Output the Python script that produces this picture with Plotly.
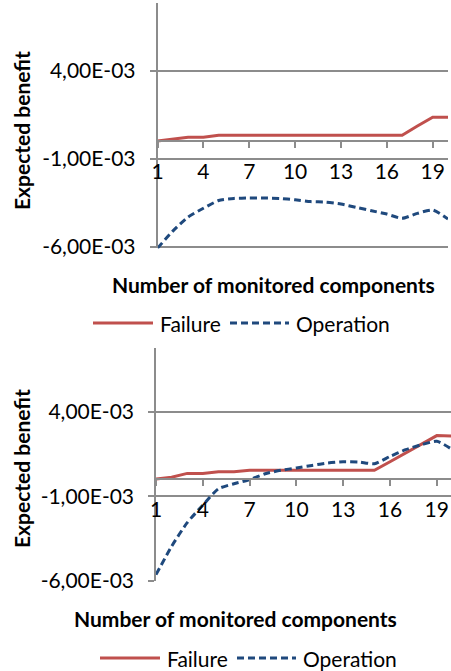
import plotly.graph_objects as go

# ---------------- data ----------------
components = [1, 2, 3, 4, 5, 6, 7, 8, 9, 10, 11, 12, 13, 14, 15, 16, 17, 18, 19, 20]

top_failure = [0.02e-3, 0.12e-3, 0.23e-3, 0.23e-3, 0.35e-3, 0.35e-3, 0.35e-3, 0.35e-3, 0.35e-3, 0.35e-3,
               0.35e-3, 0.35e-3, 0.35e-3, 0.35e-3, 0.35e-3, 0.35e-3, 0.35e-3, 0.87e-3, 1.37e-3, 1.37e-3]
top_operation = [-6.07e-3, -5.10e-3, -4.30e-3, -3.80e-3, -3.36e-3, -3.24e-3, -3.22e-3, -3.22e-3, -3.24e-3, -3.32e-3,
                 -3.42e-3, -3.45e-3, -3.56e-3, -3.75e-3, -3.94e-3, -4.13e-3, -4.37e-3, -4.09e-3, -3.90e-3, -4.41e-3]

bottom_failure = [0.03e-3, 0.13e-3, 0.36e-3, 0.36e-3, 0.46e-3, 0.46e-3, 0.54e-3, 0.54e-3, 0.54e-3, 0.54e-3,
                  0.54e-3, 0.54e-3, 0.54e-3, 0.54e-3, 0.54e-3, 1.05e-3, 1.56e-3, 2.07e-3, 2.59e-3, 2.57e-3]
bottom_operation = [-5.62e-3, -3.95e-3, -2.55e-3, -1.52e-3, -0.55e-3, -0.25e-3, -0.01e-3, 0.34e-3, 0.54e-3, 0.68e-3,
                    0.83e-3, 0.97e-3, 1.05e-3, 1.03e-3, 0.93e-3, 1.36e-3, 1.76e-3, 2.05e-3, 2.25e-3, 1.76e-3]

x_tick_vals = [1, 4, 7, 10, 13, 16, 19]
x_tick_text = ["1", "4", "7", "10", "13", "16", "19"]
y_tick_vals = [4.0e-3, -1.0e-3, -6.0e-3]
y_tick_text = ["4,00E-03", "-1,00E-03", "-6,00E-03"]

series_names = ["Failure", "Operation"]
x_title = "Number of monitored components"
y_title = "Expected benefit"

# ---------------- styling ----------------
W, H = 451, 671
RED = "#C0504D"
BLUE = "#1F497D"
GRID = "#8C8C8C"
FONT = "Lato, 'Noto Sans', sans-serif"
FS = 21
DASH = "7px,4px"


def fx(px):
    return px / W


def fy(px):
    return 1 - px / H


panels = [
    dict(fail=top_failure, oper=top_operation, xd=(157.5, 448), xr=[1, 20],
         yd=(2.7, 248.4), yr=[-6.08e-3, 7.88e-3], xt=(273, 285), yt=131, leg=(93, 323)),
    dict(fail=bottom_failure, oper=bottom_operation, xd=(156, 451), xr=[1, 19.91],
         yd=(347.7, 581.1), yr=[-6.0e-3, 7.78e-3], xt=(235, 618), yt=469, leg=(100, 658)),
]

fig = go.Figure()
annotations = []
shapes = []

for i, p in enumerate(panels):
    xa = "x" if i == 0 else f"x{i+1}"
    ya = "y" if i == 0 else f"y{i+1}"
    fig.add_trace(go.Scatter(x=components, y=p["fail"], mode="lines", name=series_names[0],
                             line=dict(color=RED, width=3), xaxis=xa, yaxis=ya, showlegend=False))
    fig.add_trace(go.Scatter(x=components, y=p["oper"], mode="lines", name=series_names[1],
                             line=dict(color=BLUE, width=3, dash=DASH, shape="spline", smoothing=0.6),
                             xaxis=xa, yaxis=ya, showlegend=False))

    y_bot, y_top = fy(p["yd"][1]), fy(p["yd"][0])
    ymin, ymax = p["yr"]
    zero_pos = y_bot + (0 - ymin) / (ymax - ymin) * (y_top - y_bot)

    xkey = "xaxis" if i == 0 else f"xaxis{i+1}"
    ykey = "yaxis" if i == 0 else f"yaxis{i+1}"
    fig.layout[xkey] = dict(
        domain=[fx(p["xd"][0]), fx(p["xd"][1])], range=p["xr"], anchor="free", position=zero_pos,
        tickvals=x_tick_vals, ticktext=x_tick_text, ticks="outside", ticklen=6, tickwidth=1.5,
        tickcolor=GRID, showline=True, linecolor=GRID, linewidth=1.5, showgrid=False, zeroline=False,
        tickfont=dict(family=FONT, size=FS, color="black"), ticklabelstandoff=6, automargin=False,
    )
    fig.layout[ykey] = dict(
        domain=[y_bot, y_top], range=p["yr"], anchor=xa,
        tickvals=y_tick_vals, ticktext=y_tick_text, ticks="outside", ticklen=6, tickwidth=1.5,
        tickcolor=GRID, showline=True, linecolor=GRID, linewidth=1.5, showgrid=True,
        gridcolor=GRID, gridwidth=1.5, zeroline=False,
        tickfont=dict(family=FONT, size=FS, color="black"), ticklabelstandoff=10, automargin=False,
    )

    annotations.append(dict(text=f"<b>{x_title}</b>", x=fx(p["xt"][0]), y=fy(p["xt"][1]),
                            xref="paper", yref="paper", showarrow=False, xanchor="center", yanchor="middle",
                            font=dict(family=FONT, size=FS, color="black")))
    annotations.append(dict(text=f"<b>{y_title}</b>", x=fx(21), y=fy(p["yt"]), textangle=-90,
                            xref="paper", yref="paper", showarrow=False, xanchor="center", yanchor="middle",
                            font=dict(family=FONT, size=FS, color="black")))

    lx, ly = p["leg"]
    shapes.append(dict(type="line", xref="paper", yref="paper", x0=fx(lx), x1=fx(lx + 60),
                       y0=fy(ly), y1=fy(ly), line=dict(color=RED, width=3)))
    annotations.append(dict(text=series_names[0], x=fx(lx + 65), y=fy(ly), xref="paper", yref="paper",
                            showarrow=False, xanchor="left", yanchor="middle",
                            font=dict(family=FONT, size=FS, color="black")))
    shapes.append(dict(type="line", xref="paper", yref="paper", x0=fx(lx + 137), x1=fx(lx + 196),
                       y0=fy(ly), y1=fy(ly), line=dict(color=BLUE, width=3, dash=DASH)))
    annotations.append(dict(text=series_names[1], x=fx(lx + 201), y=fy(ly), xref="paper", yref="paper",
                            showarrow=False, xanchor="left", yanchor="middle",
                            font=dict(family=FONT, size=FS, color="black")))

fig.update_layout(
    width=W, height=H, margin=dict(l=0, r=0, t=0, b=0, autoexpand=False),
    paper_bgcolor="white", plot_bgcolor="white",
    annotations=annotations, shapes=shapes, showlegend=False,
    font=dict(family=FONT, size=FS, color="black"),
)

fig.write_html("out.html", config={"displayModeBar": False},
               post_script="document.body.style.margin='0';document.body.style.overflow='hidden';")
